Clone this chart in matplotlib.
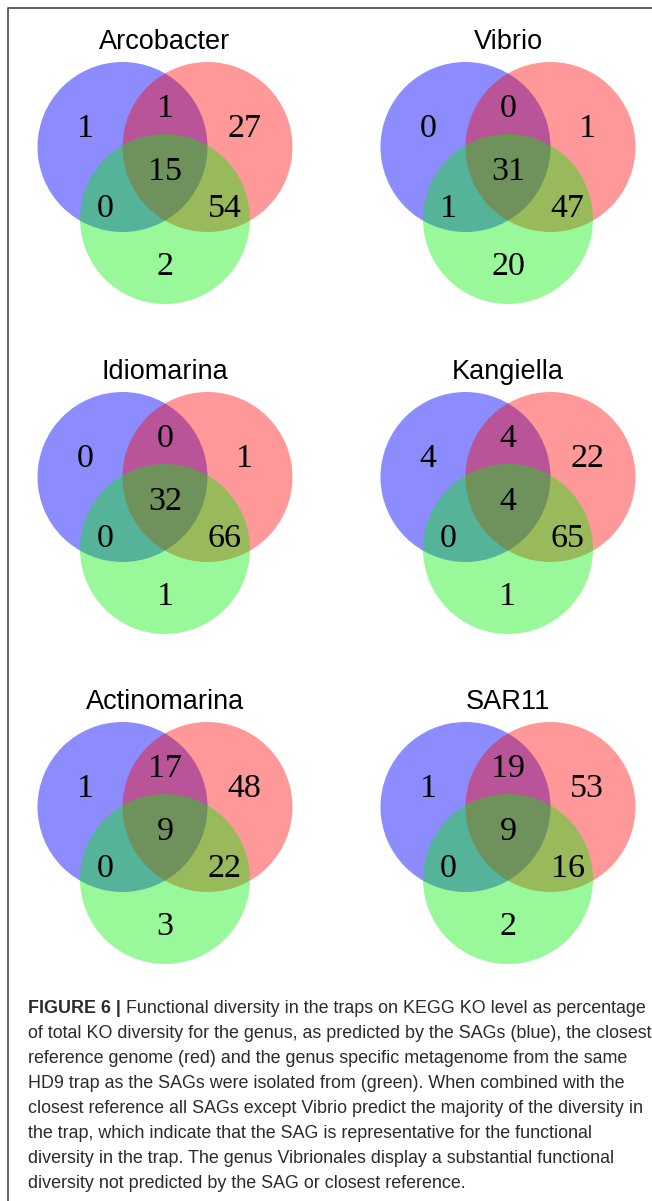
import matplotlib
matplotlib.use("Agg")
import matplotlib.pyplot as plt
from matplotlib.patches import Circle

# KO counts per Venn region, one entry per genus
genera = ["Arcobacter", "Vibrio", "Idiomarina", "Kangiella", "Actinomarina", "SAR11"]
sag_only = [1, 0, 0, 4, 1, 1]
sag_ref = [1, 0, 0, 4, 17, 19]
ref_only = [27, 1, 1, 22, 48, 53]
all_three = [15, 31, 32, 4, 9, 9]
sag_meta = [0, 1, 0, 0, 0, 0]
ref_meta = [54, 47, 66, 65, 22, 16]
meta_only = [2, 20, 1, 1, 3, 2]

caption_bold = "FIGURE 6 |"
caption_lines = [
    " Functional diversity in the traps on KEGG KO level as percentage",
    "of total KO diversity for the genus, as predicted by the SAGs (blue), the closest",
    "reference genome (red) and the genus specific metagenome from the same",
    "HD9 trap as the SAGs were isolated from (green). When combined with the",
    "closest reference all SAGs except Vibrio predict the majority of the diversity in",
    "the trap, which indicate that the SAG is representative for the functional",
    "diversity in the trap. The genus Vibrionales display a substantial functional",
    "diversity not predicted by the SAG or closest reference.",
]

W, H = 652, 1201
fig = plt.figure(figsize=(W / 100, H / 100), dpi=100)
ax = fig.add_axes([0, 0, 1, 1])
ax.set_xlim(0, W)
ax.set_ylim(H, 0)
ax.axis("off")

# frame lines
ax.plot([8, 8, W], [H, 8, 8], color="#555555", lw=1.3, solid_capstyle="butt")

R = 85
col_x = [165, 508]
row_y = [147, 477, 807]
circle_cols = ["#0000ff", "#ff0000", "#00ee00"]
alphas = [0.45, 0.4, 0.4]
num_font = dict(family=["Liberation Serif", "DejaVu Serif"], fontsize=24.5, color="black",
                ha="center", va="center")

for i, name in enumerate(genera):
    cx = col_x[i % 2]
    cy = row_y[i // 2]
    centers = [(cx - R / 2, cy), (cx + R / 2, cy), (cx, cy + 72)]
    for (x, y), c, a in zip(centers, circle_cols, alphas):
        ax.add_patch(Circle((x, y), R, facecolor=c, alpha=a, edgecolor="none"))
    ax.text(cx, cy - 98, name, family=["Liberation Sans", "DejaVu Sans"], fontsize=19.5,
            ha="center", va="baseline", color="black")
    vals = [sag_only[i], sag_ref[i], ref_only[i], all_three[i], sag_meta[i], ref_meta[i], meta_only[i]]
    offs = [(-0.94, -0.24), (0, -0.47), (0.93, -0.24), (0, 0.27), (-0.7, 0.7), (0.7, 0.7), (0, 1.39)]
    for v, (dx, dy) in zip(vals, offs):
        ax.text(cx + dx * R, cy + dy * R + 2, str(v), **num_font)

# caption
cap_font = ["Liberation Sans", "DejaVu Sans"]
cap_size = 12.9
cap_col = "#2b2b2b"
x0, y0, dy = 28, 1013, 25
t = ax.text(x0, y0, caption_bold, family=cap_font, fontsize=cap_size, fontweight="bold",
            color=cap_col, va="baseline", ha="left")
fig.canvas.draw()
bb = t.get_window_extent()
x1 = ax.transData.inverted().transform((bb.x1, bb.y0))[0]
ax.text(x1, y0, caption_lines[0], family=cap_font, fontsize=cap_size, color=cap_col,
        va="baseline", ha="left")
for k, line in enumerate(caption_lines[1:], start=1):
    ax.text(x0, y0 + k * dy, line, family=cap_font, fontsize=cap_size, color=cap_col,
            va="baseline", ha="left")

fig.savefig("out.png", dpi=100)
